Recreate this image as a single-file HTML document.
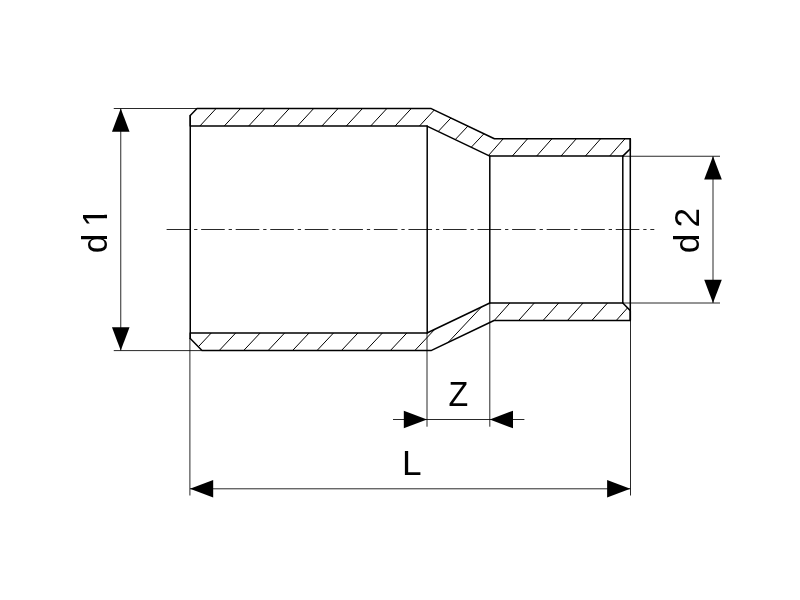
<!DOCTYPE html>
<html><head><meta charset="utf-8"><title>Reducer d1 d2 Z L</title>
<style>html,body{margin:0;padding:0;background:#fff;}body{width:800px;height:600px;overflow:hidden;}svg{display:block;}</style>
</head><body>
<svg width="800" height="600" viewBox="0 0 800 600">
<defs>
<clipPath id="ct"><polygon points="190.25,115.6 197,108.6 431.2,108.6 494.4,138.75 630.3,138.75 630.3,148.75 622.8,156.1 489.8,156.1 427,126.1 190.25,126.1"/></clipPath>
<clipPath id="cb"><polygon points="190.25,338.5 202,350.6 431,350.6 494,320.5 630.3,320.5 630.3,310.6 622.8,303 489.8,303 427,333 190.25,333"/></clipPath>
<clipPath id="c1"><rect x="0" y="-30" width="25" height="27"/><rect x="8.6" y="-3" width="3.6" height="4"/></clipPath>
</defs>
<rect width="800" height="600" fill="#fff"/>
<g stroke="#111" stroke-width="0.9" fill="none">
<g clip-path="url(#ct)" stroke="#000" stroke-width="1.0"><line x1="172.15" y1="156.00" x2="227.65" y2="96.00"/><line x1="196.55" y1="156.00" x2="252.05" y2="96.00"/><line x1="220.95" y1="156.00" x2="276.45" y2="96.00"/><line x1="245.35" y1="156.00" x2="300.85" y2="96.00"/><line x1="269.75" y1="156.00" x2="325.25" y2="96.00"/><line x1="294.15" y1="156.00" x2="349.65" y2="96.00"/><line x1="318.55" y1="156.00" x2="374.05" y2="96.00"/><line x1="342.95" y1="156.00" x2="398.45" y2="96.00"/><line x1="367.35" y1="156.00" x2="422.85" y2="96.00"/><line x1="391.75" y1="156.00" x2="447.25" y2="96.00"/><line x1="416.45" y1="154.65" x2="472.85" y2="94.65"/><line x1="433.35" y1="162.85" x2="489.75" y2="102.85"/><line x1="449.30" y1="170.60" x2="505.70" y2="110.60"/><line x1="461.45" y1="186.00" x2="514.55" y2="126.00"/><line x1="485.80" y1="186.00" x2="538.90" y2="126.00"/><line x1="510.15" y1="186.00" x2="563.25" y2="126.00"/><line x1="534.50" y1="186.00" x2="587.60" y2="126.00"/><line x1="558.85" y1="186.00" x2="611.95" y2="126.00"/><line x1="583.20" y1="186.00" x2="636.30" y2="126.00"/></g>
<g clip-path="url(#cb)" stroke="#000" stroke-width="1.0"><line x1="183.05" y1="363.00" x2="239.45" y2="303.00"/><line x1="207.50" y1="363.00" x2="263.90" y2="303.00"/><line x1="231.95" y1="363.00" x2="288.35" y2="303.00"/><line x1="256.40" y1="363.00" x2="312.80" y2="303.00"/><line x1="280.85" y1="363.00" x2="337.25" y2="303.00"/><line x1="305.30" y1="363.00" x2="361.70" y2="303.00"/><line x1="329.75" y1="363.00" x2="386.15" y2="303.00"/><line x1="354.20" y1="363.00" x2="410.60" y2="303.00"/><line x1="378.65" y1="363.00" x2="435.05" y2="303.00"/><line x1="403.10" y1="363.00" x2="459.50" y2="303.00"/><line x1="427.15" y1="364.75" x2="502.35" y2="284.75"/><line x1="483.05" y1="333.00" x2="536.75" y2="273.00"/><line x1="507.45" y1="333.00" x2="561.15" y2="273.00"/><line x1="531.85" y1="333.00" x2="585.55" y2="273.00"/><line x1="556.25" y1="333.00" x2="609.95" y2="273.00"/><line x1="580.65" y1="333.00" x2="634.35" y2="273.00"/><line x1="605.05" y1="333.00" x2="658.75" y2="273.00"/></g>
<line x1="166.6" y1="229.5" x2="654.3" y2="229.5" stroke-dasharray="23.6 3.9 3.3 3.75"/>
<line x1="113.75" y1="108.5" x2="197" y2="108.5"/>
<line x1="113.75" y1="350.6" x2="201.5" y2="350.6"/>
<line x1="120.75" y1="108.5" x2="120.75" y2="350.5"/>
<line x1="622.8" y1="156.25" x2="720" y2="156.25"/>
<line x1="622.8" y1="303" x2="720" y2="303"/>
<line x1="713" y1="156.25" x2="713" y2="303"/>
<line x1="189.9" y1="338" x2="189.9" y2="495.5"/>
<line x1="630.5" y1="320" x2="630.5" y2="495.5"/>
<line x1="427" y1="333" x2="427" y2="426.7"/>
<line x1="489.8" y1="303" x2="489.8" y2="426.7"/>
<line x1="393" y1="419.5" x2="524.4" y2="419.5"/>
<line x1="190" y1="488.8" x2="630.3" y2="488.8"/>
</g>
<g stroke="#000" stroke-width="1.5" fill="none" stroke-linejoin="round" stroke-linecap="round">
<polygon points="190.25,115.6 197,108.6 431.2,108.6 494.4,138.75 630.3,138.75 630.3,148.75 622.8,156.1 489.8,156.1 427,126.1 190.25,126.1"/>
<polygon points="190.25,338.5 202,350.6 431,350.6 494,320.5 630.3,320.5 630.3,310.6 622.8,303 489.8,303 427,333 190.25,333"/>
<line x1="190.25" y1="115.6" x2="190.25" y2="338.5"/>
<line x1="427.2" y1="126.1" x2="427.2" y2="333"/>
<line x1="489.8" y1="156.1" x2="489.8" y2="303"/>
<line x1="622.8" y1="156.1" x2="622.8" y2="303"/>
<line x1="630.3" y1="138.75" x2="630.3" y2="320.5"/>
</g>
<g fill="#000" stroke="none">
<polygon points="120.75,108.5 111.95,131.70 129.55,131.70"/>
<polygon points="120.75,350.5 129.55,327.30 111.95,327.30"/>
<polygon points="713,156.25 704.20,179.45 721.80,179.45"/>
<polygon points="713,303 721.80,279.80 704.20,279.80"/>
<polygon points="427,419.5 403.80,410.70 403.80,428.30"/>
<polygon points="489.8,419.5 513.00,428.30 513.00,410.70"/>
<polygon points="190,488.8 213.20,497.60 213.20,480.00"/>
<polygon points="630.3,488.8 607.10,480.00 607.10,497.60"/>
</g>
<g fill="#000" font-family="'Liberation Sans', sans-serif" font-size="35.2" opacity="0.999">
<text transform="translate(107,253.2) rotate(-90)">d</text>
<text transform="translate(107,226.9) rotate(-90)" clip-path="url(#c1)">1</text>
<text transform="translate(699.2,253.2) rotate(-90)">d</text>
<text transform="translate(699.2,227.6) rotate(-90)">2</text>
<text transform="translate(448.4,405.9) scale(0.918,1)">Z</text>
<text x="402.1" y="474.8">L</text>
</g>
</svg>
</body></html>
